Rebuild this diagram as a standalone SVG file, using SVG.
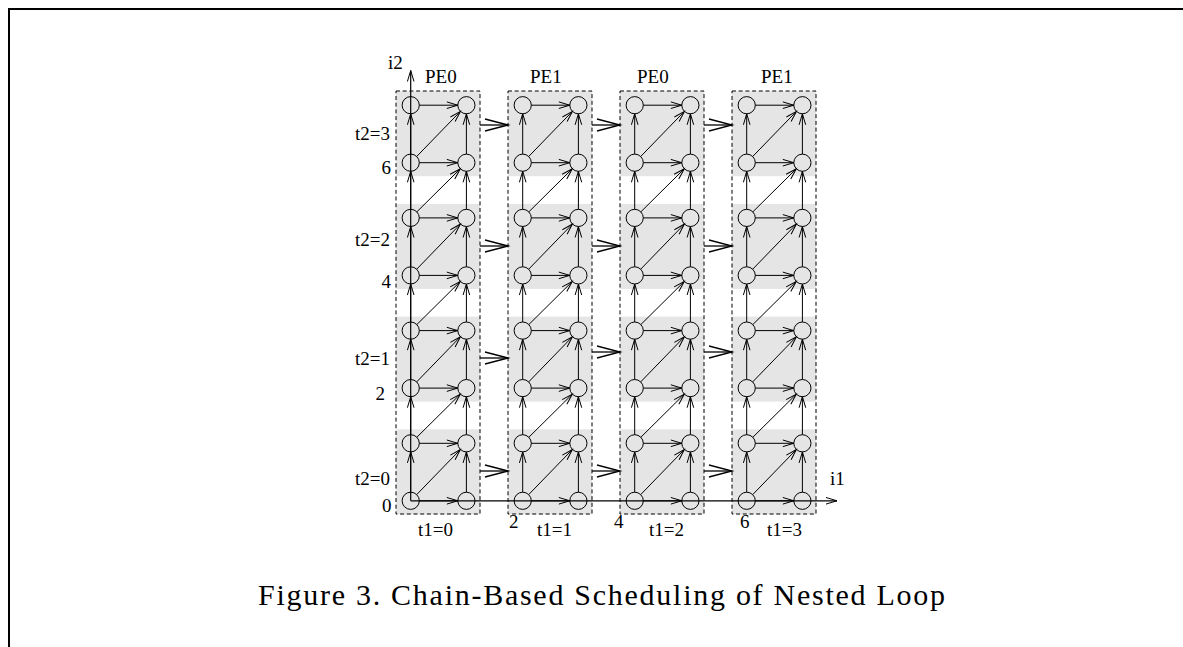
<svg xmlns="http://www.w3.org/2000/svg" width="1183" height="647" viewBox="0 0 1183 647">
<style>
.lb{font-family:"Liberation Serif","Times New Roman",serif;font-size:19px;fill:#000}
.cap{font-family:"Liberation Serif","Times New Roman",serif;font-size:30px;fill:#000}
.blk{fill:#e5e5e5;stroke:none}
.box{fill:none;stroke:#000;stroke-width:1;stroke-dasharray:4 2.7}
.nd{fill:none;stroke:#000;stroke-width:1}
.e{fill:none;stroke:#000;stroke-width:1;marker-end:url(#ah)}
.big{fill:none;stroke:#000;stroke-width:1.3;marker-end:url(#bh)}
.ax{fill:none;stroke:#000;stroke-width:1.2;marker-end:url(#ah)}
</style>
<defs>
<marker id="ah" markerUnits="userSpaceOnUse" orient="auto" overflow="visible" refX="0" refY="0" markerWidth="1" markerHeight="1"><path d="M-11,-3.3 L0,0 L-11,3.3" fill="none" stroke="#000" stroke-width="1"/></marker>
<marker id="bh" markerUnits="userSpaceOnUse" orient="auto" overflow="visible" refX="0" refY="0" markerWidth="1" markerHeight="1"><path d="M-23,-6 L0,0 L-23,6" fill="none" stroke="#000" stroke-width="1.3"/></marker>
</defs>
<rect x="0" y="0" width="1183" height="647" fill="#fff"/>
<g id="frame" stroke="#000" stroke-width="2" fill="none"><path d="M8 9 H1183 M9 8 V647"/></g>
<g id="chains">
<g id="chain0">
<rect class="blk" x="396" y="91.2" width="84" height="85"/><rect class="blk" x="396" y="203.9" width="84" height="85"/><rect class="blk" x="396" y="316.6" width="84" height="85"/><rect class="blk" x="396" y="429.3" width="84" height="85"/>
<rect class="box" x="396" y="91" width="84" height="423"/>
</g>
<g id="chain1">
<rect class="blk" x="508" y="91.2" width="84" height="85"/><rect class="blk" x="508" y="203.9" width="84" height="85"/><rect class="blk" x="508" y="316.6" width="84" height="85"/><rect class="blk" x="508" y="429.3" width="84" height="85"/>
<rect class="box" x="508" y="91" width="84" height="423"/>
</g>
<g id="chain2">
<rect class="blk" x="620" y="91.2" width="84" height="85"/><rect class="blk" x="620" y="203.9" width="84" height="85"/><rect class="blk" x="620" y="316.6" width="84" height="85"/><rect class="blk" x="620" y="429.3" width="84" height="85"/>
<rect class="box" x="620" y="91" width="84" height="423"/>
</g>
<g id="chain3">
<rect class="blk" x="732" y="91.2" width="84" height="85"/><rect class="blk" x="732" y="203.9" width="84" height="85"/><rect class="blk" x="732" y="316.6" width="84" height="85"/><rect class="blk" x="732" y="429.3" width="84" height="85"/>
<rect class="box" x="732" y="91" width="84" height="423"/>
</g>
</g>
<g id="connectors">
<g id="axes">
<path class="ax" d="M410.7 500.8 V70.5"/>
<path class="ax" d="M410.7 500.8 H837"/>
</g>
<g id="edges-c0">
<path class="e" d="M419.3 500.8 H457.8"/><path class="e" d="M419.3 443.3 H457.8"/><path class="e" d="M419.3 388.1 H457.8"/><path class="e" d="M419.3 330.6 H457.8"/><path class="e" d="M419.3 275.4 H457.8"/><path class="e" d="M419.3 217.9 H457.8"/><path class="e" d="M419.3 162.7 H457.8"/><path class="e" d="M419.3 105.2 H457.8"/>
<path class="e" d="M410.7 492.2 V451.9"/><path class="e" d="M410.7 434.7 V396.7"/><path class="e" d="M410.7 379.5 V339.2"/><path class="e" d="M410.7 322 V284"/><path class="e" d="M410.7 266.8 V226.5"/><path class="e" d="M410.7 209.3 V171.3"/><path class="e" d="M410.7 154.1 V113.8"/>
<path class="e" d="M466.4 492.2 V451.9"/><path class="e" d="M466.4 434.7 V396.7"/><path class="e" d="M466.4 379.5 V339.2"/><path class="e" d="M466.4 322 V284"/><path class="e" d="M466.4 266.8 V226.5"/><path class="e" d="M466.4 209.3 V171.3"/><path class="e" d="M466.4 154.1 V113.8"/>
<path class="e" d="M416.7 494.6 L460.4 449.5"/><path class="e" d="M416.8 437.3 L460.3 394.2"/><path class="e" d="M416.7 381.9 L460.4 336.8"/><path class="e" d="M416.8 324.6 L460.3 281.5"/><path class="e" d="M416.7 269.2 L460.4 224.1"/><path class="e" d="M416.8 211.9 L460.3 168.8"/><path class="e" d="M416.7 156.5 L460.4 111.4"/>
</g>
<g id="edges-c1" transform="translate(112 0)">
<path class="e" d="M419.3 500.8 H457.8"/><path class="e" d="M419.3 443.3 H457.8"/><path class="e" d="M419.3 388.1 H457.8"/><path class="e" d="M419.3 330.6 H457.8"/><path class="e" d="M419.3 275.4 H457.8"/><path class="e" d="M419.3 217.9 H457.8"/><path class="e" d="M419.3 162.7 H457.8"/><path class="e" d="M419.3 105.2 H457.8"/>
<path class="e" d="M410.7 492.2 V451.9"/><path class="e" d="M410.7 434.7 V396.7"/><path class="e" d="M410.7 379.5 V339.2"/><path class="e" d="M410.7 322 V284"/><path class="e" d="M410.7 266.8 V226.5"/><path class="e" d="M410.7 209.3 V171.3"/><path class="e" d="M410.7 154.1 V113.8"/>
<path class="e" d="M466.4 492.2 V451.9"/><path class="e" d="M466.4 434.7 V396.7"/><path class="e" d="M466.4 379.5 V339.2"/><path class="e" d="M466.4 322 V284"/><path class="e" d="M466.4 266.8 V226.5"/><path class="e" d="M466.4 209.3 V171.3"/><path class="e" d="M466.4 154.1 V113.8"/>
<path class="e" d="M416.7 494.6 L460.4 449.5"/><path class="e" d="M416.8 437.3 L460.3 394.2"/><path class="e" d="M416.7 381.9 L460.4 336.8"/><path class="e" d="M416.8 324.6 L460.3 281.5"/><path class="e" d="M416.7 269.2 L460.4 224.1"/><path class="e" d="M416.8 211.9 L460.3 168.8"/><path class="e" d="M416.7 156.5 L460.4 111.4"/>
</g>
<g id="edges-c2" transform="translate(224 0)">
<path class="e" d="M419.3 500.8 H457.8"/><path class="e" d="M419.3 443.3 H457.8"/><path class="e" d="M419.3 388.1 H457.8"/><path class="e" d="M419.3 330.6 H457.8"/><path class="e" d="M419.3 275.4 H457.8"/><path class="e" d="M419.3 217.9 H457.8"/><path class="e" d="M419.3 162.7 H457.8"/><path class="e" d="M419.3 105.2 H457.8"/>
<path class="e" d="M410.7 492.2 V451.9"/><path class="e" d="M410.7 434.7 V396.7"/><path class="e" d="M410.7 379.5 V339.2"/><path class="e" d="M410.7 322 V284"/><path class="e" d="M410.7 266.8 V226.5"/><path class="e" d="M410.7 209.3 V171.3"/><path class="e" d="M410.7 154.1 V113.8"/>
<path class="e" d="M466.4 492.2 V451.9"/><path class="e" d="M466.4 434.7 V396.7"/><path class="e" d="M466.4 379.5 V339.2"/><path class="e" d="M466.4 322 V284"/><path class="e" d="M466.4 266.8 V226.5"/><path class="e" d="M466.4 209.3 V171.3"/><path class="e" d="M466.4 154.1 V113.8"/>
<path class="e" d="M416.7 494.6 L460.4 449.5"/><path class="e" d="M416.8 437.3 L460.3 394.2"/><path class="e" d="M416.7 381.9 L460.4 336.8"/><path class="e" d="M416.8 324.6 L460.3 281.5"/><path class="e" d="M416.7 269.2 L460.4 224.1"/><path class="e" d="M416.8 211.9 L460.3 168.8"/><path class="e" d="M416.7 156.5 L460.4 111.4"/>
</g>
<g id="edges-c3" transform="translate(336 0)">
<path class="e" d="M419.3 500.8 H457.8"/><path class="e" d="M419.3 443.3 H457.8"/><path class="e" d="M419.3 388.1 H457.8"/><path class="e" d="M419.3 330.6 H457.8"/><path class="e" d="M419.3 275.4 H457.8"/><path class="e" d="M419.3 217.9 H457.8"/><path class="e" d="M419.3 162.7 H457.8"/><path class="e" d="M419.3 105.2 H457.8"/>
<path class="e" d="M410.7 492.2 V451.9"/><path class="e" d="M410.7 434.7 V396.7"/><path class="e" d="M410.7 379.5 V339.2"/><path class="e" d="M410.7 322 V284"/><path class="e" d="M410.7 266.8 V226.5"/><path class="e" d="M410.7 209.3 V171.3"/><path class="e" d="M410.7 154.1 V113.8"/>
<path class="e" d="M466.4 492.2 V451.9"/><path class="e" d="M466.4 434.7 V396.7"/><path class="e" d="M466.4 379.5 V339.2"/><path class="e" d="M466.4 322 V284"/><path class="e" d="M466.4 266.8 V226.5"/><path class="e" d="M466.4 209.3 V171.3"/><path class="e" d="M466.4 154.1 V113.8"/>
<path class="e" d="M416.7 494.6 L460.4 449.5"/><path class="e" d="M416.8 437.3 L460.3 394.2"/><path class="e" d="M416.7 381.9 L460.4 336.8"/><path class="e" d="M416.8 324.6 L460.3 281.5"/><path class="e" d="M416.7 269.2 L460.4 224.1"/><path class="e" d="M416.8 211.9 L460.3 168.8"/><path class="e" d="M416.7 156.5 L460.4 111.4"/>
</g>
<g id="inter-chain">
<path class="big" d="M480 125 H508"/><path class="big" d="M480 246 H508"/><path class="big" d="M480 358 H508"/><path class="big" d="M480 471 H508"/>
<path class="big" d="M592 125 H620"/><path class="big" d="M592 246 H620"/><path class="big" d="M592 352 H620"/><path class="big" d="M592 471 H620"/>
<path class="big" d="M704 125 H732"/><path class="big" d="M704 246 H732"/><path class="big" d="M704 352 H732"/><path class="big" d="M704 471 H732"/>
</g>
</g>
<g id="nodes">
<g id="n0-L0"><circle class="nd" cx="410.7" cy="500.8" r="8.6"/></g><g id="n0-R0"><circle class="nd" cx="466.4" cy="500.8" r="8.6"/></g>
<g id="n0-L1"><circle class="nd" cx="410.7" cy="443.3" r="8.6"/></g><g id="n0-R1"><circle class="nd" cx="466.4" cy="443.3" r="8.6"/></g>
<g id="n0-L2"><circle class="nd" cx="410.7" cy="388.1" r="8.6"/></g><g id="n0-R2"><circle class="nd" cx="466.4" cy="388.1" r="8.6"/></g>
<g id="n0-L3"><circle class="nd" cx="410.7" cy="330.6" r="8.6"/></g><g id="n0-R3"><circle class="nd" cx="466.4" cy="330.6" r="8.6"/></g>
<g id="n0-L4"><circle class="nd" cx="410.7" cy="275.4" r="8.6"/></g><g id="n0-R4"><circle class="nd" cx="466.4" cy="275.4" r="8.6"/></g>
<g id="n0-L5"><circle class="nd" cx="410.7" cy="217.9" r="8.6"/></g><g id="n0-R5"><circle class="nd" cx="466.4" cy="217.9" r="8.6"/></g>
<g id="n0-L6"><circle class="nd" cx="410.7" cy="162.7" r="8.6"/></g><g id="n0-R6"><circle class="nd" cx="466.4" cy="162.7" r="8.6"/></g>
<g id="n0-L7"><circle class="nd" cx="410.7" cy="105.2" r="8.6"/></g><g id="n0-R7"><circle class="nd" cx="466.4" cy="105.2" r="8.6"/></g>
<g id="n1-L0"><circle class="nd" cx="522.7" cy="500.8" r="8.6"/></g><g id="n1-R0"><circle class="nd" cx="578.4" cy="500.8" r="8.6"/></g>
<g id="n1-L1"><circle class="nd" cx="522.7" cy="443.3" r="8.6"/></g><g id="n1-R1"><circle class="nd" cx="578.4" cy="443.3" r="8.6"/></g>
<g id="n1-L2"><circle class="nd" cx="522.7" cy="388.1" r="8.6"/></g><g id="n1-R2"><circle class="nd" cx="578.4" cy="388.1" r="8.6"/></g>
<g id="n1-L3"><circle class="nd" cx="522.7" cy="330.6" r="8.6"/></g><g id="n1-R3"><circle class="nd" cx="578.4" cy="330.6" r="8.6"/></g>
<g id="n1-L4"><circle class="nd" cx="522.7" cy="275.4" r="8.6"/></g><g id="n1-R4"><circle class="nd" cx="578.4" cy="275.4" r="8.6"/></g>
<g id="n1-L5"><circle class="nd" cx="522.7" cy="217.9" r="8.6"/></g><g id="n1-R5"><circle class="nd" cx="578.4" cy="217.9" r="8.6"/></g>
<g id="n1-L6"><circle class="nd" cx="522.7" cy="162.7" r="8.6"/></g><g id="n1-R6"><circle class="nd" cx="578.4" cy="162.7" r="8.6"/></g>
<g id="n1-L7"><circle class="nd" cx="522.7" cy="105.2" r="8.6"/></g><g id="n1-R7"><circle class="nd" cx="578.4" cy="105.2" r="8.6"/></g>
<g id="n2-L0"><circle class="nd" cx="634.7" cy="500.8" r="8.6"/></g><g id="n2-R0"><circle class="nd" cx="690.4" cy="500.8" r="8.6"/></g>
<g id="n2-L1"><circle class="nd" cx="634.7" cy="443.3" r="8.6"/></g><g id="n2-R1"><circle class="nd" cx="690.4" cy="443.3" r="8.6"/></g>
<g id="n2-L2"><circle class="nd" cx="634.7" cy="388.1" r="8.6"/></g><g id="n2-R2"><circle class="nd" cx="690.4" cy="388.1" r="8.6"/></g>
<g id="n2-L3"><circle class="nd" cx="634.7" cy="330.6" r="8.6"/></g><g id="n2-R3"><circle class="nd" cx="690.4" cy="330.6" r="8.6"/></g>
<g id="n2-L4"><circle class="nd" cx="634.7" cy="275.4" r="8.6"/></g><g id="n2-R4"><circle class="nd" cx="690.4" cy="275.4" r="8.6"/></g>
<g id="n2-L5"><circle class="nd" cx="634.7" cy="217.9" r="8.6"/></g><g id="n2-R5"><circle class="nd" cx="690.4" cy="217.9" r="8.6"/></g>
<g id="n2-L6"><circle class="nd" cx="634.7" cy="162.7" r="8.6"/></g><g id="n2-R6"><circle class="nd" cx="690.4" cy="162.7" r="8.6"/></g>
<g id="n2-L7"><circle class="nd" cx="634.7" cy="105.2" r="8.6"/></g><g id="n2-R7"><circle class="nd" cx="690.4" cy="105.2" r="8.6"/></g>
<g id="n3-L0"><circle class="nd" cx="746.7" cy="500.8" r="8.6"/></g><g id="n3-R0"><circle class="nd" cx="802.4" cy="500.8" r="8.6"/></g>
<g id="n3-L1"><circle class="nd" cx="746.7" cy="443.3" r="8.6"/></g><g id="n3-R1"><circle class="nd" cx="802.4" cy="443.3" r="8.6"/></g>
<g id="n3-L2"><circle class="nd" cx="746.7" cy="388.1" r="8.6"/></g><g id="n3-R2"><circle class="nd" cx="802.4" cy="388.1" r="8.6"/></g>
<g id="n3-L3"><circle class="nd" cx="746.7" cy="330.6" r="8.6"/></g><g id="n3-R3"><circle class="nd" cx="802.4" cy="330.6" r="8.6"/></g>
<g id="n3-L4"><circle class="nd" cx="746.7" cy="275.4" r="8.6"/></g><g id="n3-R4"><circle class="nd" cx="802.4" cy="275.4" r="8.6"/></g>
<g id="n3-L5"><circle class="nd" cx="746.7" cy="217.9" r="8.6"/></g><g id="n3-R5"><circle class="nd" cx="802.4" cy="217.9" r="8.6"/></g>
<g id="n3-L6"><circle class="nd" cx="746.7" cy="162.7" r="8.6"/></g><g id="n3-R6"><circle class="nd" cx="802.4" cy="162.7" r="8.6"/></g>
<g id="n3-L7"><circle class="nd" cx="746.7" cy="105.2" r="8.6"/></g><g id="n3-R7"><circle class="nd" cx="802.4" cy="105.2" r="8.6"/></g>
</g>
<g id="labels">
<text class="lb" x="388" y="69">i2</text>
<text class="lb" x="830" y="485">i1</text>
<text class="lb" x="425" y="83">PE0</text>
<text class="lb" x="530" y="83">PE1</text>
<text class="lb" x="637" y="83">PE0</text>
<text class="lb" x="761" y="83">PE1</text>
<text class="lb" x="390" y="140" text-anchor="end">t2=3</text>
<text class="lb" x="391" y="174" text-anchor="end">6</text>
<text class="lb" x="390" y="246" text-anchor="end">t2=2</text>
<text class="lb" x="391" y="288" text-anchor="end">4</text>
<text class="lb" x="390" y="365" text-anchor="end">t2=1</text>
<text class="lb" x="385" y="400" text-anchor="end">2</text>
<text class="lb" x="390" y="485" text-anchor="end">t2=0</text>
<text class="lb" x="391.5" y="512" text-anchor="end">0</text>
<text class="lb" x="418" y="536">t1=0</text>
<text class="lb" x="509" y="528">2</text>
<text class="lb" x="537" y="536">t1=1</text>
<text class="lb" x="614" y="528">4</text>
<text class="lb" x="649" y="536">t1=2</text>
<text class="lb" x="740" y="528">6</text>
<text class="lb" x="767" y="536">t1=3</text>
<text class="cap" x="258" y="605" textLength="687">Figure 3. Chain-Based Scheduling of Nested Loop</text>
</g>
</svg>
